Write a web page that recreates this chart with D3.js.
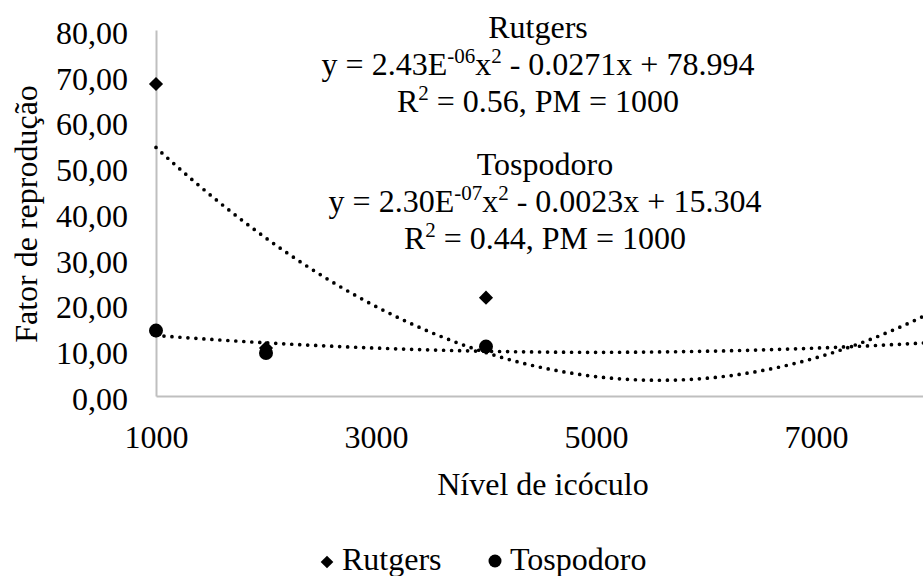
<!DOCTYPE html>
<html>
<head>
<meta charset="utf-8">
<script src="https://cdn.jsdelivr.net/npm/d3@7"></script>
<style>
  html, body { margin: 0; padding: 0; background: #fff; }
  svg { display: block; }
  text { font-family: "Liberation Serif", "Times New Roman", serif; fill: #000; }
</style>
</head>
<body>
<svg id="chart" width="923" height="576"></svg>
<script>
// Observed points: inoculum level vs. reproduction factor
const rutgersX = [1000, 2000, 4000];
const rutgersY = [68.2, 10.5, 21.5];
const tospodoroX = [1000, 2000, 4000];
const tospodoroY = [14.3, 9.4, 10.8];

// Quadratic trend coefficients [a, b, c] for y = a·x² + b·x + c
const rutgersFit = [2.43e-6, -0.0271, 78.994];
const tospodoroFit = [2.30e-7, -0.0023, 15.304];

const xTicks = [1000, 3000, 5000, 7000];
const yTicks = [0, 10, 20, 30, 40, 50, 60, 70, 80];

const svg = d3.select("#chart");

const x = d3.scaleLinear().domain([1000, 8000]).range([156, 926]);
const y = d3.scaleLinear().domain([0, 80]).range([396, 30]);

const ptBR = d3.formatLocale({ decimal: ",", thousands: ".", grouping: [3], currency: ["R$", ""] });
const fmtY = ptBR.format(".2f");

const axisColor = "#bfbfbf";
const fs = 32;

// Y axis
const gy = svg.append("g")
  .attr("transform", `translate(${x(1000)},0)`)
  .call(d3.axisLeft(y).tickValues(yTicks).tickFormat(fmtY).tickSize(0).tickPadding(28));
gy.select(".domain").attr("stroke", axisColor).attr("stroke-width", 2);
gy.selectAll("text").attr("font-size", fs).attr("font-family", "Liberation Serif").attr("dy", "0.42em");

// X axis
const gx = svg.append("g")
  .attr("transform", `translate(0,${y(0)})`)
  .call(d3.axisBottom(x).tickValues(xTicks).tickFormat(d3.format("d")).tickSize(0).tickPadding(29));
gx.select(".domain").attr("stroke", axisColor).attr("stroke-width", 2);
gx.selectAll("text").attr("font-size", fs).attr("font-family", "Liberation Serif");

// Axis titles
svg.append("text")
  .attr("x", 543).attr("y", 495)
  .attr("text-anchor", "middle").attr("font-size", fs)
  .text("Nível de icóculo");

svg.append("text")
  .attr("transform", "translate(37,214) rotate(-90)")
  .attr("text-anchor", "middle").attr("font-size", fs)
  .text("Fator de reprodução");

// Trend lines (dotted)
const plot = svg.append("g");
const quad = c => v => c[0] * v * v + c[1] * v + c[2];
const trendXs = d3.range(1000, 8601, 25);
const line = d3.line().x(d => x(d[0])).y(d => y(d[1]));

[rutgersFit, tospodoroFit].forEach(c => {
  const f = quad(c);
  plot.append("path")
    .attr("d", line(trendXs.map(v => [v, f(v)])))
    .attr("fill", "none")
    .attr("stroke", "#000")
    .attr("stroke-width", 3.7)
    .attr("stroke-linecap", "round")
    .attr("stroke-dasharray", "0 8");
});

// Markers
const diamond = d3.symbol().type(d3.symbolSquare).size(100);
plot.selectAll(".rut").data(rutgersX.map((v, i) => [v, rutgersY[i]]))
  .join("path")
  .attr("class", "rut")
  .attr("d", diamond)
  .attr("transform", d => `translate(${x(d[0])},${y(d[1])}) rotate(45)`)
  .attr("fill", "#000");

plot.selectAll(".tos").data(tospodoroX.map((v, i) => [v, tospodoroY[i]]))
  .join("circle")
  .attr("class", "tos")
  .attr("cx", d => x(d[0])).attr("cy", d => y(d[1]))
  .attr("r", 7)
  .attr("fill", "#000");

// Trend equation labels
function eqLabel(cx, y0, name, coefA, expo, lin, cst, r2) {
  const g = svg.append("g").attr("text-anchor", "middle").attr("font-size", fs);
  g.append("text").attr("x", cx).attr("y", y0).text(name);
  const t = g.append("text").attr("x", cx).attr("y", y0 + 37);
  t.append("tspan").text(`y = ${coefA}E`);
  t.append("tspan").attr("font-size", 21).attr("dy", -12).text(expo);
  t.append("tspan").attr("dy", 12).text("x");
  t.append("tspan").attr("font-size", 21).attr("dy", -12).text("2");
  t.append("tspan").attr("dy", 12).text(` - ${lin}x + ${cst}`);
  const r = g.append("text").attr("x", cx).attr("y", y0 + 74);
  r.append("tspan").text("R");
  r.append("tspan").attr("font-size", 21).attr("dy", -12).text("2");
  r.append("tspan").attr("dy", 12).text(` = ${r2}, PM = 1000`);
}
eqLabel(538, 38, "Rutgers", "2.43", "-06", "0.0271", "78.994", "0.56");
eqLabel(545, 175, "Tospodoro", "2.30", "-07", "0.0023", "15.304", "0.44");

// Legend
const lg = svg.append("g");
lg.append("path")
  .attr("d", d3.symbol().type(d3.symbolSquare).size(80)())
  .attr("transform", "translate(327,562) rotate(45)")
  .attr("fill", "#000");
lg.append("text").attr("x", 342).attr("y", 570).attr("font-size", fs).text("Rutgers");
lg.append("circle").attr("cx", 495).attr("cy", 561).attr("r", 6.5).attr("fill", "#000");
lg.append("text").attr("x", 510).attr("y", 570).attr("font-size", fs).text("Tospodoro");
</script>
</body>
</html>
